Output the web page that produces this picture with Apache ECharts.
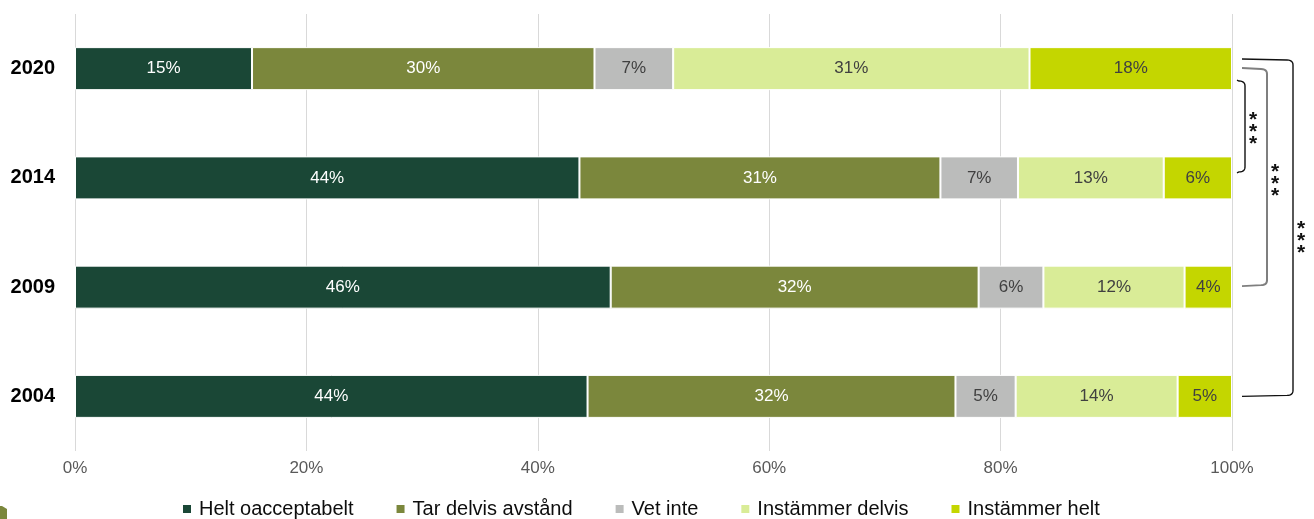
<!DOCTYPE html>
<html>
<head>
<meta charset="utf-8">
<script src="https://cdn.jsdelivr.net/npm/echarts@6/dist/echarts.min.js"></script>
<style>
  html, body { margin: 0; padding: 0; background: #fff; }
  #chart { width: 1314px; height: 519px; }
</style>
</head>
<body>
<div id="chart"></div>
<script>
// Survey years, top to bottom
const years = ['2020', '2014', '2009', '2004'];

// Share of answers per year (%)
const heltOacceptabelt = [15.3, 43.6, 46.3, 44.3];
const tarDelvisAvstand = [29.6, 31.2, 31.8, 31.8];
const vetInte = [6.8, 6.7, 5.6, 5.2];
const instammerDelvis = [30.8, 12.6, 12.2, 14.0];
const instammerHelt = [17.5, 5.9, 4.1, 4.7];

const seriesNames = ['Helt oacceptabelt', 'Tar delvis avstånd', 'Vet inte', 'Instämmer delvis', 'Instämmer helt'];

// Significance comparisons drawn as brackets to the right of the bars
const comparisons = [
  { from: '2020', to: '2014', mark: '***' },
  { from: '2020', to: '2009', mark: '***' },
  { from: '2020', to: '2004', mark: '***' }
];

const FONT = "'Liberation Sans', Arial, sans-serif";
const colors = ['#1a4736', '#7b873c', '#bbbcbb', '#d9ec97', '#c4d600'];
const labelColors = ['#ffffff', '#ffffff', '#404040', '#404040', '#404040'];
const values = [heltOacceptabelt, tarDelvisAvstand, vetInte, instammerDelvis, instammerHelt];

const chart = echarts.init(document.getElementById('chart'), null, { renderer: 'canvas' });

const series = seriesNames.map((name, i) => ({
  name: name,
  type: 'bar',
  stack: 'total',
  barWidth: 43,
  data: values[i],
  itemStyle: { color: colors[i], borderColor: '#ffffff', borderWidth: 1 },
  label: {
    show: true,
    position: 'inside',
    color: labelColors[i],
    fontFamily: FONT,
    fontSize: 17,
    formatter: p => Math.round(p.value) + '%'
  },
  emphasis: { disabled: true }
}));

chart.setOption({
  animation: false,
  backgroundColor: '#ffffff',
  grid: { left: 75, right: 82, top: 14, bottom: 68, containLabel: false },
  xAxis: {
    type: 'value',
    min: 0,
    max: 100,
    interval: 20,
    axisLine: { show: false },
    axisTick: { show: false },
    splitLine: { show: true, lineStyle: { color: '#d9d9d9', width: 1 } },
    axisLabel: {
      formatter: '{value}%',
      color: '#595959',
      fontFamily: FONT,
      fontSize: 17,
      margin: 9
    }
  },
  yAxis: {
    type: 'category',
    data: years,
    inverse: true,
    axisLine: { show: false },
    axisTick: { show: false },
    axisLabel: {
      color: '#000000',
      fontFamily: FONT,
      fontSize: 20,
      fontWeight: 'bold',
      margin: 20
    }
  },
  legend: {
    data: seriesNames,
    left: 181,
    top: 499,
    padding: 0,
    icon: 'rect',
    itemWidth: 10,
    itemHeight: 10,
    itemGap: 41,
    selectedMode: false,
    textStyle: {
      color: '#0d0d0d',
      fontFamily: FONT,
      fontSize: 20,
      padding: [0, 0, 0, 2]
    }
  },
  series: series
});

// Sample a quadratic curve for rounded bracket corners
function quad(p0, p1, p2, n) {
  const pts = [];
  for (let k = 1; k <= n; k++) {
    const t = k / n, u = 1 - t;
    pts.push([
      u * u * p0[0] + 2 * u * t * p1[0] + t * t * p2[0],
      u * u * p0[1] + 2 * u * t * p1[1] + t * t * p2[1]
    ]);
  }
  return pts;
}

// Bracket geometry relative to the 100% edge and the bar centres
const bracketStyle = [
  { armStart: 5, armEnd: 13, topOff: 11.4, botOff: -5, color: '#111111', width: 1.4, starDx: 8, starDy: 6 },
  { armStart: 10, armEnd: 35, topOff: -0.6, botOff: -1, color: '#7f7f7f', width: 2, starDx: 8, starDy: 7 },
  { armStart: 10, armEnd: 61, topOff: -9.6, botOff: 0, color: '#111111', width: 1.4, starDx: 8, starDy: 14 }
];

const x100 = chart.convertToPixel({ gridIndex: 0 }, [100, years[0]])[0];
const graphics = [];
comparisons.forEach((c, i) => {
  const s = bracketStyle[i];
  const yA = chart.convertToPixel({ gridIndex: 0 }, [100, c.from])[1] + s.topOff;
  const yB = chart.convertToPixel({ gridIndex: 0 }, [100, c.to])[1] + s.botOff;
  const xs = x100 + s.armStart;
  const xv = x100 + s.armEnd;
  const r = 6;
  let pts = [[xs, yA], [xv - r, yA + 1]];
  pts = pts.concat(quad([xv - r, yA + 1], [xv, yA + 1], [xv, yA + r], 6));
  pts.push([xv, yB - r]);
  pts = pts.concat(quad([xv, yB - r], [xv, yB - 1], [xv - r, yB - 1], 6));
  pts.push([xs, yB]);
  graphics.push({
    type: 'polyline',
    shape: { points: pts },
    style: { fill: null, stroke: s.color, lineWidth: s.width },
    silent: true
  });
  graphics.push({
    type: 'text',
    x: xv + s.starDx,
    y: (yA + yB) / 2 + s.starDy,
    style: {
      text: c.mark.split('').join('\n'),
      fill: '#111111',
      font: `bold 21px ${FONT}`,
      lineHeight: 12,
      align: 'center',
      verticalAlign: 'middle'
    },
    silent: true
  });
});

// Corner logo fragment in the lower left
graphics.push({
  type: 'polygon',
  shape: { points: [[0, 506], [2, 506], [7, 509], [7, 519], [0, 519]] },
  style: { fill: '#7b873c' },
  silent: true
});

chart.setOption({ graphic: graphics });
</script>
</body>
</html>
